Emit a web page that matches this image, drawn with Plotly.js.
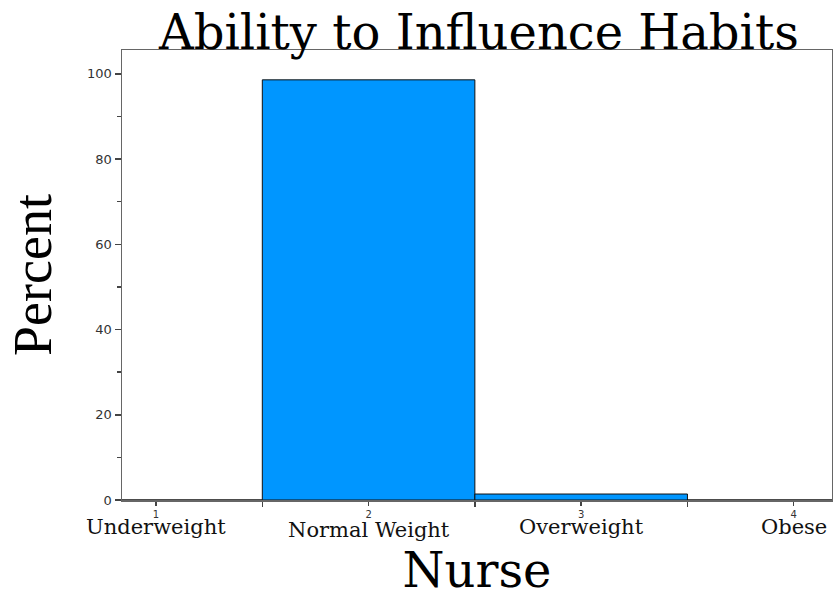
<!DOCTYPE html>
<html><head><meta charset="utf-8">
<script src="https://cdn.plot.ly/plotly-3.0.1.min.js"></script>
<style>html,body{margin:0;padding:0;background:#fff}</style>
</head><body><div id="chart" style="width:833px;height:598px"></div>
<script>
const categories = ['Underweight', 'Normal Weight', 'Overweight', 'Obese'];
const codes = [1, 2, 3, 4];
const percents = [0, 98.6, 1.4, 0];
const yTicks = [0, 20, 40, 60, 80, 100];

const serifWide = '"DejaVu Serif", "Liberation Serif", serif';
const serif = '"Liberation Serif", "DejaVu Serif", serif';
const sans = '"DejaVu Sans", "Liberation Sans", sans-serif';

const trace = {
  type: 'bar', x: codes, y: percents, width: 1,
  marker: {color: '#0096FF', line: {color: '#111', width: 1}},
  hoverinfo: 'none'
};

const annotations = categories.map((c, i) => ({
  x: codes[i], y: 0, xref: 'x', yref: 'y', text: c, showarrow: false,
  yanchor: 'top', yshift: i === 1 ? -16 : -13,
  font: {family: serifWide, size: 21, color: '#111'}
}));

const layout = {
  width: 833, height: 598,
  margin: {l: 122, r: 1, t: 50, b: 98},
  paper_bgcolor: '#fff', plot_bgcolor: '#fff',
  showlegend: false,
  title: {text: 'Ability to Influence Habits', font: {family: serifWide, size: 48, color: '#000'},
          x: 0.575, xanchor: 'center', y: 0.946, yanchor: 'middle', yref: 'container', pad: {t: 0, b: 0}},
  xaxis: {range: [0.84, 4.18], tickvals: codes, ticktext: codes.map(String),
          ticks: 'outside', ticklen: 4, tickcolor: '#444', tickwidth: 1.5,
          tickfont: {family: sans, size: 10, color: '#333'},
          showgrid: false, zeroline: false, showline: true, mirror: true,
          linecolor: '#666', linewidth: 1.5,
          minor: {tick0: 1.5, dtick: 1, ticks: 'outside', ticklen: 5, tickcolor: '#444', showgrid: false},
          title: {text: 'Nurse', font: {family: serifWide, size: 48, color: '#000'}, standoff: 36}},
  yaxis: {range: [0, 105.6], tickvals: yTicks, ticks: 'outside', ticklen: 6,
          tickcolor: '#444', tickwidth: 1.5,
          tickfont: {family: sans, size: 13, color: '#333'},
          showgrid: false, zeroline: false, showline: true, mirror: true,
          linecolor: '#666', linewidth: 1.5,
          minor: {tick0: 0, dtick: 10, ticks: 'outside', ticklen: 4, tickcolor: '#444', showgrid: false},
          title: {text: 'Percent', font: {family: serif, size: 54, color: '#000'}, standoff: 18}},
  annotations: annotations
};

Plotly.newPlot('chart', [trace], layout, {displayModeBar: false, staticPlot: true});
</script></body></html>
